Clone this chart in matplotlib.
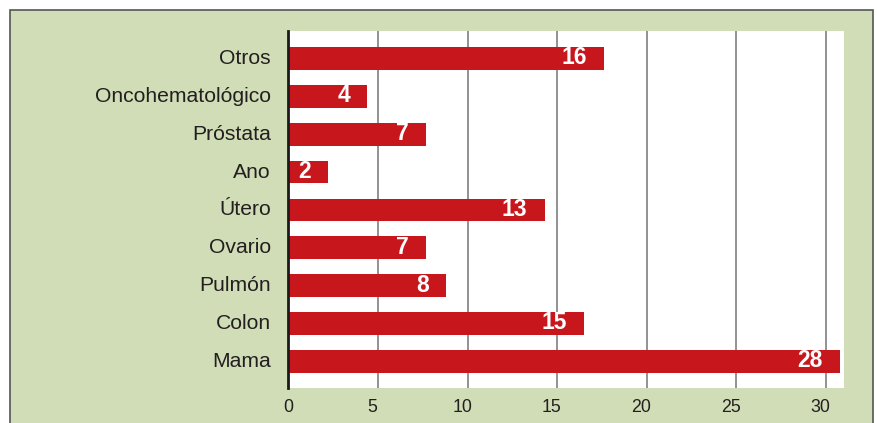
import matplotlib.pyplot as plt
import matplotlib.transforms as mtransforms
from matplotlib.patches import Rectangle

# categories from bottom to top
categorias = ['Mama', 'Colon', 'Pulmón', 'Ovario', 'Útero', 'Ano', 'Próstata',
              'Oncohematológico', 'Otros']
# number of cases shown inside the bars
casos = [28, 15, 8, 7, 13, 2, 7, 4, 16]
# bar length (percentage)
porcentaje = [30.8, 16.5, 8.8, 7.7, 14.3, 2.2, 7.7, 4.4, 17.6]
ticks_x = [0, 5, 10, 15, 20, 25, 30]

plt.rcParams['font.family'] = ['Liberation Sans', 'DejaVu Sans']

fig = plt.figure(figsize=(8.78, 4.23), dpi=100)
fig.patch.set_facecolor('white')

W, H = 878, 423
fig.patches.append(Rectangle((10 / W, -5 / H), 863 / W, 418 / H, transform=fig.transFigure,
                             facecolor='#d1ddb6', edgecolor='#555555', linewidth=1.2,
                             zorder=-10))

ax = fig.add_axes([288.5 / W, (H - 388) / H, (844 - 288.5) / W, (388 - 30.7) / H])
ax.set_zorder(1)
ax.set_facecolor('white')

y = range(len(categorias))
ax.barh(y, porcentaje, height=0.6, color='#c8161d', zorder=3)

for i, (v, n) in enumerate(zip(porcentaje, casos)):
    ax.annotate(str(n), xy=(v, i), xytext=(-12.5, 0.5), textcoords='offset points',
                ha='right', va='center', color='white', fontsize=16.5, fontweight='bold',
                zorder=4)

ax.set_xlim(0, 31)
ax.set_ylim(-0.7, 8.73)
ax.set_yticks(list(y))
ax.set_yticklabels(categorias, fontsize=15.2, color='#231f20')
ax.set_xticks(ticks_x)
ax.set_xticklabels([str(t) for t in ticks_x], fontsize=12.8, color='#231f20')
ax.tick_params(axis='both', length=0)
ax.tick_params(axis='y', pad=12.6)
ax.tick_params(axis='x', pad=8)

shift = mtransforms.ScaledTranslation(-5.5 / 100, 0, fig.dpi_scale_trans)
for lbl in ax.get_xticklabels()[1:]:
    lbl.set_transform(lbl.get_transform() + shift)
up = mtransforms.ScaledTranslation(0, 2 / 100, fig.dpi_scale_trans)
for lbl in ax.get_yticklabels():
    lbl.set_transform(lbl.get_transform() + up)

ax.grid(axis='x', color='#7f7f7f', linewidth=1.2, zorder=1)
ax.set_axisbelow(True)
for s in ['top', 'right', 'bottom']:
    ax.spines[s].set_visible(False)
ax.spines['left'].set_color('#1a1a1a')
ax.spines['left'].set_linewidth(2)
ax.spines['left'].set_zorder(5)

fig.savefig('out.png', dpi=100)
